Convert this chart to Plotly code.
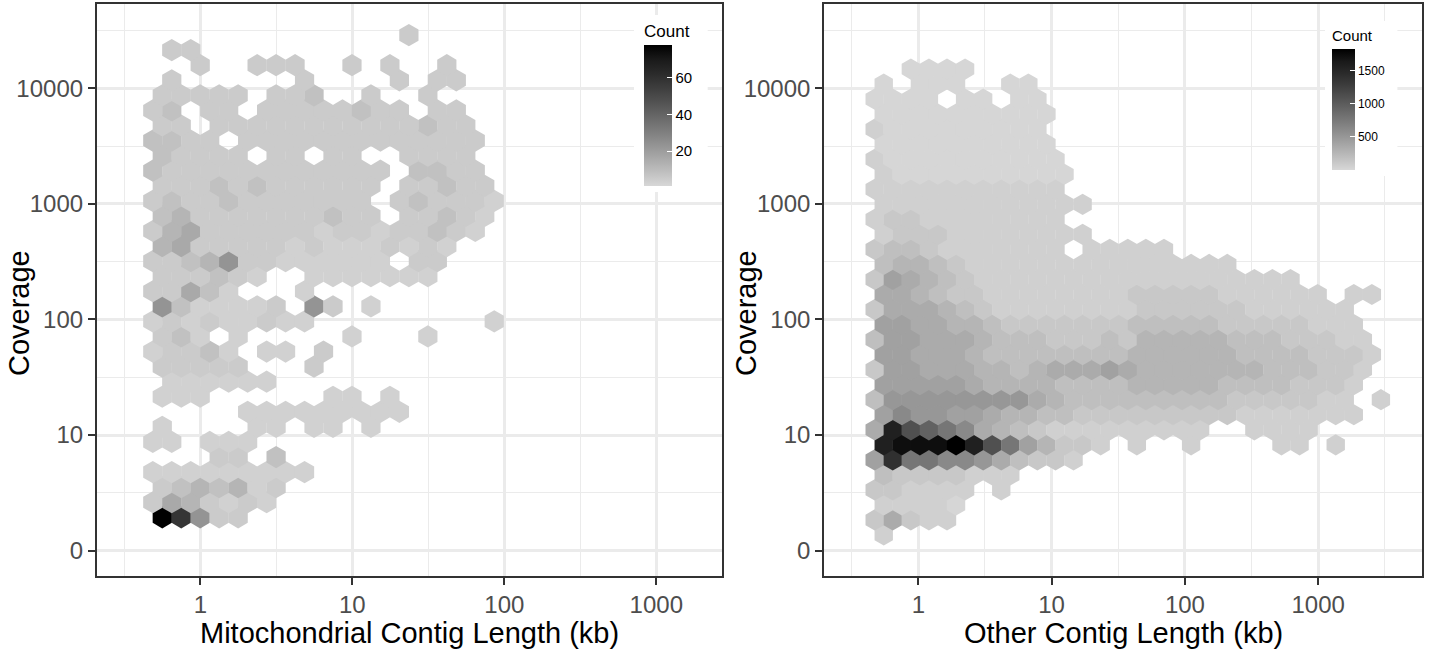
import plotly.graph_objects as go

# ------------------------------------------------------------------
# DATA
# Hexbin counts, one string per hexagon row (row 0 = lowest row).
# Each character is one hexagon column; '.' = empty bin.
# Characters are count classes; their counts are given in *_CODE_COUNTS.
# ------------------------------------------------------------------
CODES = "123456789ABCDEFGH"
LEFT_CODE_COUNTS = [1, 3, 5, 8, 12, 16, 20, 23, 28, 35, 42, 50, 58, 65, 72, 78, 78]
RIGHT_CODE_COUNTS = [10, 55, 115, 185, 260, 340, 420, 500, 620, 780, 950, 1110,
                     1260, 1410, 1570, 1730, 1830]

LEFT_ROWS = [
    ".GD833",
    "3653232",
    ".3454523",
    "222222222",
    "....33.4",
    "22.222",
    ".2....22.22.2",
    ".....222222222",
    ".222......22.2",
    ".222222",
    ".33333...3",
    "23342.22.3",
    ".342.2.....2...2",
    "232322322.........2",
    ".8422223.83.2",
    "33642...2",
    ".333432..2222222",
    "3345833222222.33",
    ".5633333232223232",
    "356333333233233432",
    ".453333333433.33432",
    "343343333333.343332",
    ".333434333333.33433",
    "4333333333333.4433",
    ".43333.33.33..3333",
    "4433.3333333333333",
    ".33.33333333333433",
    "34.33.33333433.33",
    ".33333.334..3..3",
    ".3......3....3.33",
    "...3..333..3.3..3",
    ".33",
    "..............3",
]

RIGHT_ROWS = [
    "2",
    "36322",
    "22221",
    "332222.2",
    "43333222",
    "7EAA99864332",
    "FGGGHFCA75332.2..2....22.2",
    "6FCBA96543222222222..2222",
    "79887765544333" + "3333332222222",
    "488888888654444" + "444443333322" + ".2",
    "77777655554444" + "5555544443332",
    "377666554566676" + "5555555444332",
    "77666544444444" + "55555544443332",
    "477666544433343" + "5555544433322",
    "77665543333333" + "4444433333222",
    "366654322222222" + "333333222222",
    "66543322222222" + "33333222222" + ".22",
    "3765432" + "22222222222222222",
    "455432" + "22222222222222",
    "34432222222" + ".22222",
    "233322222222",
    "23322222222",
    "222222222222",
    "22222222222",
    "21111111111",
    "21111111111",
    "1111111111",
    "2111111111",
    "1111111111",
    "1111.11.11",
    "1.111..11",
    "..1111",
]

X_TICK_VALS = [0, 1, 2, 3]
X_TICK_TEXT = ["1", "10", "100", "1000"]
Y_TICK_VALS = [0, 1, 2, 3, 4]
Y_TICK_TEXT = ["0", "10", "100", "1000", "10000"]
LEFT_CBAR_TICKS = [20, 40, 60]
RIGHT_CBAR_TICKS = [500, 1000, 1500]
LEFT_COUNT_RANGE = (1, 78)
RIGHT_COUNT_RANGE = (1, 1830)

# hexagon grids (log10 units): origin, spacing, which row parity is shifted
LEFT_GRID = dict(x0=-0.375, dx=0.1248, y0=0.288, dy=0.13036, shift_parity=1)
RIGHT_GRID = dict(x0=-0.3271, dx=0.13563, y0=0.135, dy=0.13002, shift_parity=0)

W, H = 1430, 657


def expand(rows, grid, code_counts):
    xs, ys, cs = [], [], []
    for j, row in enumerate(rows):
        shift = 0.5 if j % 2 == grid["shift_parity"] else 0.0
        for i, ch in enumerate(row):
            if ch == ".":
                continue
            xs.append(grid["x0"] + grid["dx"] * (i + shift))
            ys.append(grid["y0"] + grid["dy"] * j)
            cs.append(code_counts[CODES.index(ch)])
    return xs, ys, cs


def lab_gray(L):
    fy = (L + 16) / 116
    Y = fy ** 3 if fy ** 3 > 0.008856 else L / 903.3
    c = 1.055 * Y ** (1 / 2.4) - 0.055 if Y > 0.0031308 else 12.92 * Y
    return max(0, min(255, round(255 * c)))


def gray_L(g):
    c = g / 255
    Y = ((c + 0.055) / 1.055) ** 2.4 if c > 0.04045 else c / 12.92
    return 116 * Y ** (1 / 3) - 16 if Y > 0.008856 else 903.3 * Y


L_LOW = gray_L(215)
colorscale = []
for k in range(11):
    t = k / 10
    g = lab_gray(L_LOW * (1 - t))
    colorscale.append([t, f"rgb({g},{g},{g})"])

FONT = "Liberation Sans, Arial, Helvetica, sans-serif"

lx, ly, lc = expand(LEFT_ROWS, LEFT_GRID, LEFT_CODE_COUNTS)
rx, ry, rc = expand(RIGHT_ROWS, RIGHT_GRID, RIGHT_CODE_COUNTS)


def cbar(x_left, y_top, length, thick, ticks, tick_size, title_size, xpad):
    return dict(
        x=x_left / W, xanchor="left", y=1 - y_top / H, yanchor="top",
        lenmode="pixels", len=length, thicknessmode="pixels", thickness=thick,
        xpad=xpad, ypad=6, bgcolor="white", outlinewidth=0,
        title=dict(text="Count", side="top", font=dict(size=title_size, color="black", family=FONT)),
        tickmode="array", tickvals=ticks, ticks="inside", ticklen=5,
        tickcolor="white", tickwidth=1.2,
        tickfont=dict(size=tick_size, color="black", family=FONT),
    )


fig = go.Figure()
fig.add_trace(go.Scatter(
    x=lx, y=ly, mode="markers", xaxis="x", yaxis="y", hoverinfo="skip", showlegend=False,
    marker=dict(symbol="hexagon", size=22.2, color=lc, colorscale=colorscale,
                cmin=LEFT_COUNT_RANGE[0], cmax=LEFT_COUNT_RANGE[1], line=dict(width=0),
                colorbar=cbar(634, 15, 177, 28, LEFT_CBAR_TICKS, 15, 17, 10)),
))
fig.add_trace(go.Scatter(
    x=rx, y=ry, mode="markers", xaxis="x2", yaxis="y2", hoverinfo="skip", showlegend=False,
    marker=dict(symbol="hexagon", size=21.2, color=rc, colorscale=colorscale,
                cmin=RIGHT_COUNT_RANGE[0], cmax=RIGHT_COUNT_RANGE[1], line=dict(width=0),
                colorbar=cbar(1325, 21, 155, 23, RIGHT_CBAR_TICKS, 12, 15, 7)),
))

GRID_C = "#ebebeb"
axis_common = dict(
    showgrid=True, gridcolor=GRID_C, gridwidth=2.6, zeroline=False,
    showline=True, mirror=True, linecolor="#333333", linewidth=1.6,
    ticks="outside", ticklen=7, tickwidth=1.6, tickcolor="#333333",
    tickfont=dict(size=24, color="#4d4d4d", family=FONT),
    tickmode="array", fixedrange=True,
)
YDOM = [1 - 575.7 / H, 1 - 4 / H]
YRANGE = [-0.2171, 4.7284]
y_minor = dict(tickvals=[0.5, 1.5, 2.5, 3.5, 4.5], showgrid=True, gridcolor=GRID_C, gridwidth=1.3, ticks="")

title_font = dict(size=29, color="black", family=FONT)
fig.update_layout(
    width=W, height=H, margin=dict(l=0, r=0, t=0, b=0),
    paper_bgcolor="white", plot_bgcolor="white",
    font=dict(family=FONT),
    xaxis=dict(axis_common, domain=[96.7 / W, 722 / W], range=[-0.6816, 3.4322],
               tickvals=X_TICK_VALS, ticktext=X_TICK_TEXT, anchor="y",
               minor=dict(tickvals=[-0.5, 0.5, 1.5, 2.5], showgrid=True, gridcolor=GRID_C,
                          gridwidth=1.3, ticks="")),
    yaxis=dict(axis_common, domain=YDOM, range=YRANGE, tickvals=Y_TICK_VALS,
               ticktext=Y_TICK_TEXT, anchor="x", minor=y_minor),
    xaxis2=dict(axis_common, domain=[824 / W, 1422 / W], range=[-0.7074, 3.7787],
                tickvals=X_TICK_VALS, ticktext=X_TICK_TEXT, anchor="y2",
                minor=dict(tickvals=[-0.5, 0.5, 1.5, 2.5, 3.5], showgrid=True, gridcolor=GRID_C,
                           gridwidth=1.3, ticks="")),
    yaxis2=dict(axis_common, domain=YDOM, range=YRANGE, tickvals=Y_TICK_VALS,
                ticktext=Y_TICK_TEXT, anchor="x2", minor=y_minor),
    annotations=[
        dict(text="Coverage", x=19 / W, y=1 - 313 / H, xref="paper", yref="paper",
             xanchor="center", yanchor="middle",
             textangle=-90, showarrow=False, font=title_font),
        dict(text="Coverage", x=746 / W, y=1 - 313 / H, xref="paper", yref="paper",
             xanchor="center", yanchor="middle",
             textangle=-90, showarrow=False, font=title_font),
        dict(text="Mitochondrial Contig Length (kb)", x=409 / W, y=1 - 633 / H,
             xref="paper", yref="paper", xanchor="center", yanchor="middle",
             showarrow=False, font=title_font),
        dict(text="Other Contig Length (kb)", x=1123 / W, y=1 - 633 / H,
             xref="paper", yref="paper", xanchor="center", yanchor="middle",
             showarrow=False, font=title_font),
    ],
)

fig.write_html(
    "out.html",
    config={"displayModeBar": False},
    post_script="document.body.style.margin='0';document.body.style.overflow='hidden';",
)
